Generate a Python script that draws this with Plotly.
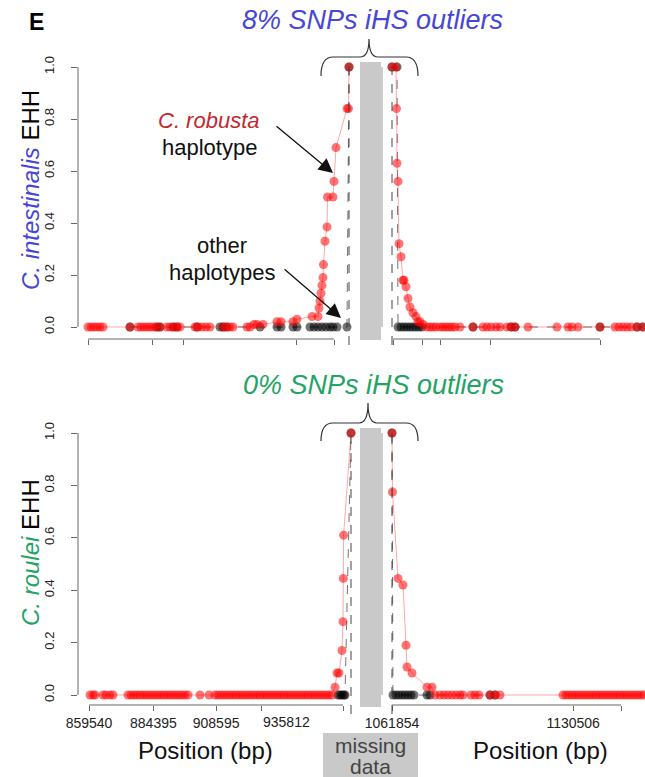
import plotly.graph_objects as go

W, H = 645, 777
FONT = "Liberation Sans, Arial, sans-serif"

# ---------------- data (positions in bp, EHH values) ----------------
# C. intestinalis, left of missing data
ci_left_red_pos = [859154, 860312, 861470, 862628, 863786, 864944, 875366, 878454, 879612, 880770,
                   881928, 883086, 884244, 885402, 886946, 889648, 890806, 892350, 893508, 894666,
                   900456, 901614, 903158, 904702, 906246, 911264, 912422, 913966, 915124, 920528,
                   921686, 923230, 924388, 926704, 932108, 933652, 938284, 939828, 945618, 947934,
                   948320, 948706, 949092, 949478, 949864, 950050, 950636, 951408, 951600, 953724,
                   954110, 954882, 959128, 959700, 959900]
ci_left_red_ehh = [0, 0, 0, 0, 0, 0, 0, 0, 0, 0,
                   0, 0, 0, 0, 0, 0, 0, 0, 0, 0,
                   0, 0, 0, 0, 0, 0, 0, 0, 0, 0,
                   0, 0.01, 0.01, 0.01, 0.02, 0.02, 0.02, 0.03, 0.04, 0.04,
                   0.073, 0.10, 0.13, 0.16, 0.19, 0.24, 0.33, 0.385, 0.50, 0.50,
                   0.56, 0.69, 0.84, 0.84, 1.0]
ci_left_blk_pos = [875366, 885788, 886946, 891964, 893508, 901228, 910106, 911264, 912808, 925546,
                   932108, 933652, 938284, 939828, 944846, 946390, 947934, 949478, 951022, 952566,
                   953724, 955268, 959128, 959900]
ci_left_blk_ehh = [0] * 23 + [1.0]

# C. intestinalis, right of missing data
ci_right_red_pos = [1061854, 1063370, 1063560, 1063749, 1064128, 1064507, 1065265, 1066023, 1066402,
                    1067160, 1067918, 1068676, 1069813, 1070950, 1071708, 1072466, 1073603, 1075119,
                    1076256, 1077393, 1078530, 1080046, 1081183, 1082320, 1083457, 1084594, 1085731,
                    1087626, 1092553, 1096343, 1097859, 1099375, 1101270, 1102786, 1105439, 1106955,
                    1108471, 1113398, 1124389, 1128558, 1130074, 1132348, 1140686, 1146371, 1147887,
                    1149403, 1150919, 1152435, 1154709, 1156983]
ci_right_red_ehh = [1.0, 1.0, 0.84, 0.63, 0.56, 0.32, 0.27, 0.18, 0.18,
                    0.155, 0.11, 0.077, 0.055, 0.04, 0.02, 0.02, 0.01, 0,
                    0, 0, 0, 0, 0, 0, 0, 0, 0,
                    0, 0, 0, 0, 0, 0, 0, 0, 0,
                    0, 0, 0, 0, 0, 0, 0, 0, 0,
                    0, 0, 0, 0, 0]
ci_right_blk_pos = [1061854, 1063749, 1064128, 1065265, 1066402, 1067539, 1068676, 1069813, 1070950,
                    1072087, 1073224, 1092553, 1106955, 1108471, 1140686, 1154709, 1156983]
ci_right_blk_ehh = [1.0, 1.0] + [0] * 15

# C. roulei, left of missing data
cr_left_red_pos = [859926, 861084, 861856, 864944, 866102, 867646, 868804, 874594, 875752, 876910,
                   878068, 879226, 880384, 881542, 882700, 883858, 885016, 886174, 887332, 888490,
                   889648, 890806, 891964, 893122, 894280, 895438, 896596, 897754, 902386, 905860,
                   908176, 909334, 910492, 911650, 912808, 913966, 915124, 916282, 917440, 918598,
                   919756, 920914, 922072, 923230, 924388, 925546, 926704, 927862, 929020, 930178,
                   931336, 932494, 933652, 934810, 935968, 937126, 938284, 939442, 940600, 941758,
                   942916, 944074, 945232, 946390, 947548, 948706, 949864, 951022, 952180, 953338,
                   954496, 955268, 956040, 957198, 957584, 957700, 957816, 960672]
cr_left_red_ehh = [0] * 70 + [0.03, 0.084, 0.084, 0.17, 0.28, 0.445, 0.61, 1.0]
cr_left_blk_pos = [955654, 956426, 957198, 957970, 958356, 960672]
cr_left_blk_ehh = [0, 0, 0, 0, 0, 1.0]

# C. roulei, right of missing data
cr_right_red_pos = [1061854, 1062044, 1064128, 1066023, 1067160, 1067539, 1069434, 1075119, 1077014,
                    1078151, 1080046, 1081562, 1083078, 1084594, 1086110, 1087626, 1088763, 1091795,
                    1093311, 1094827, 1098996, 1100891, 1102786,
                    1126663, 1127800, 1128937, 1130074, 1131211, 1132348, 1133485, 1134622, 1135759,
                    1136896, 1138033, 1139170, 1140307, 1141444, 1142581, 1143718, 1144855, 1145992,
                    1147129, 1148266, 1149403, 1150540, 1151677, 1152814, 1153951, 1155088, 1156225,
                    1157362]
cr_right_red_ehh = [1.0, 0.775, 0.445, 0.42, 0.19, 0.107, 0.084, 0.03, 0.03] + [0] * 42
cr_right_blk_pos = [1061854, 1062233, 1063370, 1064507, 1065644, 1066781, 1067918, 1069055, 1070192,
                    1075119, 1076256, 1098996, 1100891]
cr_right_blk_ehh = [1.0] + [0] * 12

# axis ticks
top_left_ticks = [859154, 883858, 895824, 939442, 954110]
top_right_ticks = [1062233, 1073224, 1080046, 1098996, 1140686]
bot_left_ticks = [859540, 884395, 908595, 925932, 957584]
bot_left_ticktext = ["859540", "884395", "908595", "", ""]
bot_left_extra_label = 935812
bot_right_ticks = [1061854, 1130506, 1148645]
bot_right_ticktext = ["1061854", "1130506", ""]
core_positions = {"x": 959900, "x2": 1061854, "x3": 960672, "x4": 1061854}
y_ticks = [0, 0.2, 0.4, 0.6, 0.8, 1.0]

# ---------------- helpers for layout positions ----------------
def px(x):
    return x / W

def py(y):
    return 1 - y / H

RED_M = "rgba(255,0,0,0.55)"
RED_L = "rgba(255,60,60,0.45)"
BLK_M = "rgba(0,0,0,0.55)"
BLK_L = "rgba(0,0,0,0.55)"

fig = go.Figure()

def add_series(xs, ys, xa, ya, red):
    fig.add_trace(go.Scatter(
        x=xs, y=ys, xaxis=xa, yaxis=ya, mode="lines+markers", cliponaxis=False,
        marker=dict(size=9, color=RED_M if red else BLK_M, line=dict(width=0)),
        line=dict(color=RED_L if red else BLK_L, width=1, dash="solid" if red else "dash"),
        showlegend=False, hoverinfo="skip"))

add_series(ci_left_blk_pos, ci_left_blk_ehh, "x", "y", False)
add_series(ci_left_red_pos, ci_left_red_ehh, "x", "y", True)
add_series(ci_right_blk_pos, ci_right_blk_ehh, "x2", "y", False)
add_series(ci_right_red_pos, ci_right_red_ehh, "x2", "y", True)
add_series(cr_left_blk_pos, cr_left_blk_ehh, "x3", "y2", False)
add_series(cr_left_red_pos, cr_left_red_ehh, "x3", "y2", True)
add_series(cr_right_blk_pos, cr_right_blk_ehh, "x4", "y2", False)
add_series(cr_right_red_pos, cr_right_red_ehh, "x4", "y2", True)

LEFT_DOM = [px(78), px(357)]
RIGHT_DOM = [px(383), 1.0]
LEFT_RANGE = [855294, 962988]
RIGHT_RANGE = [1058443, 1157741]

xcommon = dict(showgrid=False, zeroline=False, showline=False, ticks="outside", ticklen=5,
               tickcolor="#666", tickwidth=1, automargin=False,
               tickfont=dict(family=FONT, size=14, color="#222"))
ycommon = dict(showgrid=False, zeroline=False, showline=False, ticks="outside", ticklen=6,
               tickcolor="#666", tickwidth=1, tickvals=y_ticks, automargin=False,
               ticktext=[f"{v:.1f}" for v in y_ticks], tickangle=-90,
               tickfont=dict(family=FONT, size=13, color="#222"), ticklabelstandoff=12)

fig.update_layout(
    width=W, height=H, margin=dict(l=0, r=0, t=0, b=0),
    paper_bgcolor="white", plot_bgcolor="rgba(0,0,0,0)",
    xaxis=dict(domain=LEFT_DOM, range=LEFT_RANGE, anchor="y", tickvals=top_left_ticks,
               showticklabels=False, **xcommon),
    xaxis2=dict(domain=RIGHT_DOM, range=RIGHT_RANGE, anchor="y", tickvals=top_right_ticks,
                showticklabels=False, **xcommon),
    xaxis3=dict(domain=LEFT_DOM, range=LEFT_RANGE, anchor="y2", tickvals=bot_left_ticks,
                ticktext=bot_left_ticktext, **xcommon),
    xaxis4=dict(domain=RIGHT_DOM, range=RIGHT_RANGE, anchor="y2", tickvals=bot_right_ticks,
                ticktext=bot_right_ticktext, **xcommon),
    yaxis=dict(domain=[py(339), py(55)], range=[-12 / 260, 1 + 12 / 260], anchor="x", **ycommon),
    yaxis2=dict(domain=[py(705), py(420)], range=[-10 / 262, 1 + 13 / 262], anchor="x3", **ycommon),
)

shapes = []
# gray missing-data bars
for top, bot in [(62, 340), (428, 707)]:
    shapes.append(dict(type="rect", xref="paper", yref="paper", x0=px(360), x1=px(381),
                       y0=py(bot), y1=py(top), fillcolor="#c9c9c9", line=dict(width=0), layer="below"))
# right-segment axis remnant lines
for ya in ["y", "y2"]:
    shapes.append(dict(type="line", xref="paper", yref=ya, x0=px(382), x1=px(382), y0=0, y1=1,
                       line=dict(color="#999", width=1)))
# y-axis lines
for ya in ["y", "y2"]:
    shapes.append(dict(type="line", xref="paper", yref=ya, x0=px(78), x1=px(78), y0=0, y1=1,
                       line=dict(color="#666", width=1)))
# x-axis lines
for xa, ticks, yline in [("x", top_left_ticks, 339), ("x2", top_right_ticks, 339),
                         ("x3", bot_left_ticks, 705), ("x4", bot_right_ticks, 705)]:
    shapes.append(dict(type="line", xref=xa, yref="paper", x0=ticks[0], x1=ticks[-1],
                       y0=py(yline), y1=py(yline), line=dict(color="#666", width=1)))
# dashed core lines
for xa, (t, b) in zip(["x", "x2", "x3", "x4"], [(62, 345), (62, 345), (428, 714), (428, 714)]):
    xc = core_positions[xa]
    shapes.append(dict(type="line", xref=xa, yref="paper", x0=xc, x1=xc, y0=py(b), y1=py(t),
                       line=dict(color="#444", width=1, dash="dash")))

# braces
def brace(xl, xr, xt, ybase, ymid, ytip):
    pts = (f"M {px(xl)},{py(ybase)} Q {px(xl)},{py(ymid)} {px(xl + 12)},{py(ymid)} "
           f"L {px(xt - 9)},{py(ymid)} Q {px(xt)},{py(ymid)} {px(xt)},{py(ytip)} "
           f"Q {px(xt)},{py(ymid)} {px(xt + 9)},{py(ymid)} "
           f"L {px(xr - 12)},{py(ymid)} Q {px(xr)},{py(ymid)} {px(xr)},{py(ybase)}")
    return dict(type="path", xref="paper", yref="paper", path=pts,
                line=dict(color="#333", width=1.2))

shapes.append(brace(321, 418, 369, 76, 57, 39))
shapes.append(brace(321, 418, 368, 441, 423, 403))
# missing data box
shapes.append(dict(type="rect", xref="paper", yref="paper", x0=px(323), x1=px(418),
                   y0=py(777), y1=py(733), fillcolor="#c9c9c9", line=dict(width=0)))
fig.update_layout(shapes=shapes)

ann = []
def text(x, y, t, size, color="#111", italic=False, bold=False, angle=0, xanchor="center"):
    s = t
    if italic:
        s = f"<i>{s}</i>"
    if bold:
        s = f"<b>{s}</b>"
    ann.append(dict(x=px(x), y=py(y), xref="paper", yref="paper", text=s, showarrow=False,
                    font=dict(family=FONT, size=size, color=color), textangle=angle,
                    xanchor=xanchor, yanchor="middle"))

BLUE = "#4646d8"
GREEN = "#22a463"
text(36, 22, "E", 23, "#000", bold=True)
text(372, 20, "8% SNPs iHS outliers", 27, BLUE, italic=True)
text(373, 385, "0% SNPs iHS outliers", 27, GREEN, italic=True)
text(30, 190, f"<i><span style='color:{BLUE}'>C. intestinalis</span></i> EHH", 24, "#000", angle=-90)
text(30, 553, f"<i><span style='color:{GREEN}'>C. roulei</span></i> EHH", 24, "#000", angle=-90)
text(209, 120, "C. robusta", 22, "#c0282d", italic=True)
text(209, 147, "haplotype", 22, "#111")
text(222, 245, "other", 22, "#111")
text(222, 272, "haplotypes", 22, "#111")
text(205, 750, "Position (bp)", 24, "#111")
text(540, 750, "Position (bp)", 24, "#111")
text(370, 745, "missing", 21, "#444")
text(370, 766, "data", 21, "#444")
# extra x label of the lower left axis
ann.append(dict(x=bot_left_extra_label, y=py(722), xref="x3", yref="paper", text=str(bot_left_extra_label),
                showarrow=False, font=dict(family=FONT, size=14, color="#222"), yanchor="middle"))

# arrows
for (tx, ty), (hx, hy) in [((275, 125), (333, 173)), ((283, 268), (341, 318))]:
    ann.append(dict(x=px(hx), y=py(hy), xref="paper", yref="paper", ax=tx - hx, ay=ty - hy,
                    axref="pixel", ayref="pixel", text="", showarrow=True, arrowhead=2,
                    arrowsize=2.2, arrowwidth=1.3, arrowcolor="#111"))
fig.update_layout(annotations=ann)

fig.write_html("out.html")
